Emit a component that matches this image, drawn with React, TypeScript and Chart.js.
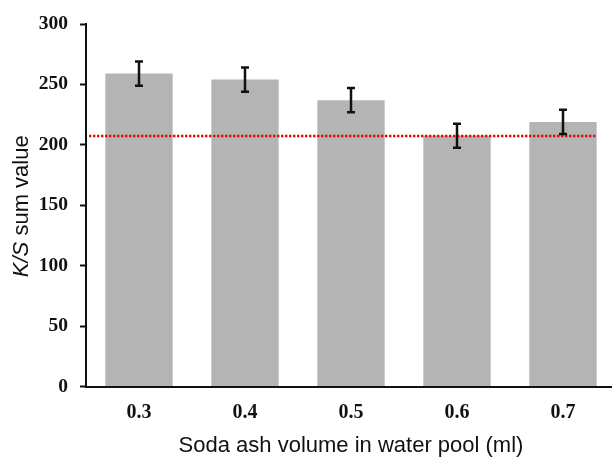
import React, { useEffect, useRef } from "react";
import { Chart, registerables } from "chart.js";

Chart.register(...registerables);

// ---- data ----
const categories = ["0.3", "0.4", "0.5", "0.6", "0.7"];
const ksValues = [259, 254, 237, 207.5, 219];
const ksErrors = [10, 10, 10, 10, 10];
const referenceValue = 207.5;
const yMin = 0;
const yMax = 300;
const yStep = 50;
const xTitle = "Soda ash volume in water pool (ml)";
const yTitleItalic = "K/S";
const yTitleRest = " sum value";

const errorBarPlugin = {
  id: "errorBars",
  afterDatasetsDraw(chart: any) {
    const { ctx } = chart;
    const yScale = chart.scales.y;
    const meta = chart.getDatasetMeta(0);
    // reference line first
    const yRef = Math.round(yScale.getPixelForValue(referenceValue));
    const last = meta.data[meta.data.length - 1] as any;
    ctx.save();
    ctx.strokeStyle = "#ff0000";
    ctx.lineWidth = 2.6;
    ctx.setLineDash([2.4, 1.6]);
    ctx.beginPath();
    ctx.moveTo(chart.chartArea.left + 3, yRef);
    ctx.lineTo(last.x + last.width / 2, yRef);
    ctx.stroke();
    ctx.restore();

    ctx.save();
    ctx.strokeStyle = "#111111";
    ctx.lineWidth = 2.5;
    meta.data.forEach((bar: any, i: number) => {
      const v = ksValues[i];
      const e = ksErrors[i];
      const yTop = yScale.getPixelForValue(v + e);
      const yBot = yScale.getPixelForValue(v - e);
      const x = bar.x;
      const cap = 4;
      ctx.beginPath();
      ctx.moveTo(x, yTop);
      ctx.lineTo(x, yBot);
      ctx.moveTo(x - cap, yTop);
      ctx.lineTo(x + cap, yTop);
      ctx.moveTo(x - cap, yBot);
      ctx.lineTo(x + cap, yBot);
      ctx.stroke();
    });
    ctx.restore();
  },
};

const yTitlePlugin = {
  id: "yTitle",
  afterDraw(chart: any) {
    const { ctx, chartArea } = chart;
    const italicFont = "italic 22px 'Liberation Sans', Arial, sans-serif";
    const normalFont = "22px 'Liberation Sans', Arial, sans-serif";
    ctx.save();
    ctx.font = italicFont;
    const w1 = ctx.measureText(yTitleItalic).width;
    ctx.font = normalFont;
    const w2 = ctx.measureText(yTitleRest).width;
    const total = w1 + w2;
    const cy = (chartArea.top + chartArea.bottom) / 2 + 1;
    ctx.translate(28, cy);
    ctx.rotate(-Math.PI / 2);
    ctx.fillStyle = "#111111";
    ctx.textBaseline = "alphabetic";
    ctx.textAlign = "left";
    ctx.font = italicFont;
    ctx.fillText(yTitleItalic, -total / 2, 0);
    ctx.font = normalFont;
    ctx.fillText(yTitleRest, -total / 2 + w1, 0);
    ctx.restore();
  },
};

export default function App() {
  const canvasRef = useRef<HTMLCanvasElement | null>(null);

  useEffect(() => {
    if (!canvasRef.current) return;
    const chart = new Chart(canvasRef.current, {
      type: "bar",
      data: {
        labels: categories,
        datasets: [
          {
            data: ksValues,
            backgroundColor: "#b4b4b4",
            borderWidth: 0,
            categoryPercentage: 1,
            barPercentage: 0.635,
          },
        ],
      },
      options: {
        animation: false,
        responsive: true,
        maintainAspectRatio: false,
        layout: { padding: { top: 24, right: 2, bottom: 0, left: 0 } },
        plugins: {
          legend: { display: false },
          tooltip: { enabled: false },
          title: { display: false },
        },
        scales: {
          x: {
            type: "category",
            offset: true,
            grid: { display: false, drawTicks: false },
            border: { display: true, color: "#111111", width: 2 },
            ticks: {
              color: "#111111",
              padding: 14,
              font: { family: "'Liberation Serif', 'Times New Roman', serif", size: 20, weight: "bold" },
            },
            title: {
              display: true,
              text: xTitle,
              color: "#111111",
              padding: 0,
              font: { family: "'Liberation Sans', Arial, sans-serif", size: 22, lineHeight: 1 },
            },
            afterFit: (scale: any) => {
              scale.height = 70.5;
            },
          },
          y: {
            min: yMin,
            max: yMax,
            grid: {
              display: true,
              drawOnChartArea: false,
              drawTicks: true,
              tickLength: 6,
              tickColor: "#111111",
              tickWidth: 2,
            },
            border: { display: true, color: "#111111", width: 2 },
            ticks: {
              stepSize: yStep,
              color: "#111111",
              padding: 12,
              font: { family: "'Liberation Serif', 'Times New Roman', serif", size: 19.5, weight: "bold" },
            },
            afterFit: (scale: any) => {
              scale.width = 86;
            },
          },
        },
      },
      plugins: [errorBarPlugin, yTitlePlugin],
    });
    return () => chart.destroy();
  }, []);

  return (
    <div style={{ position: "absolute", left: 0, top: 0, width: 612, height: 457, overflow: "hidden", background: "#ffffff" }}>
      <div style={{ position: "relative", width: 618, height: 457 }}>
        <canvas ref={canvasRef} />
      </div>
    </div>
  );
}
